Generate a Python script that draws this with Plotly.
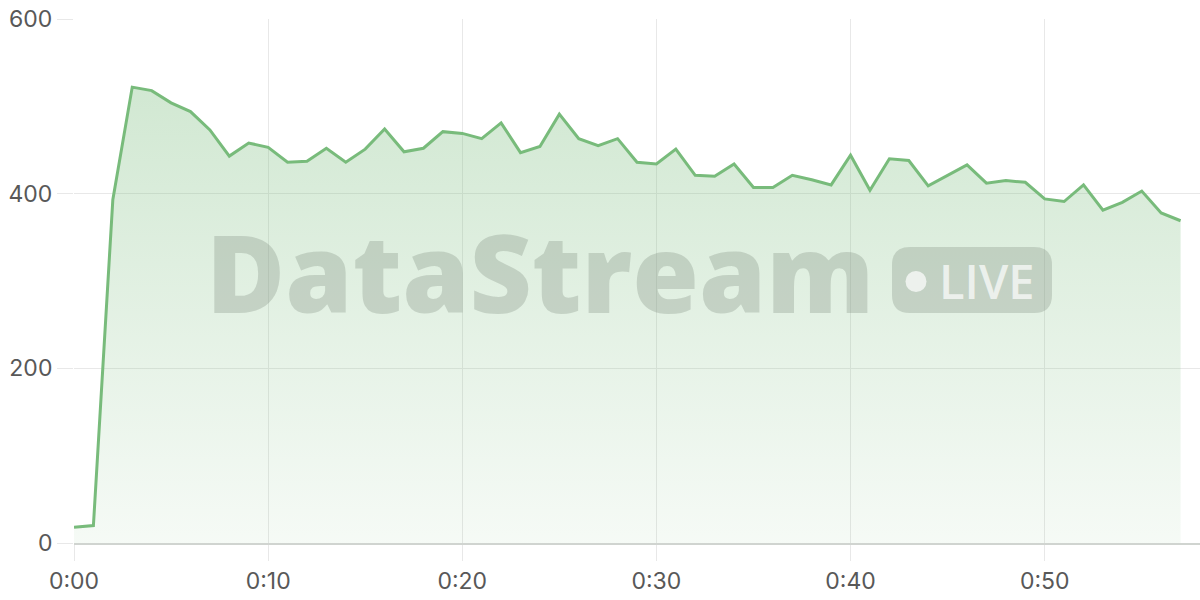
import plotly.graph_objects as go

minutes = list(range(58))
values = [18, 20, 393, 522, 518, 504, 494, 473, 443, 458, 453, 436, 437, 452, 436,
          451, 474, 448, 452, 471, 469, 463, 481, 447, 454, 491, 463, 455, 463, 436,
          434, 451, 421, 420, 434, 407, 407, 421, 416, 410, 444, 404, 440, 438, 409,
          421, 433, 412, 415, 413, 394, 391, 410, 381, 390, 403, 378, 369]
tick_vals = [0, 10, 20, 30, 40, 50]
tick_text = ["0:00", "0:10", "0:20", "0:30", "0:40", "0:50"]

L, T, W, H = 74, 19, 1126, 524


def px(x):
    return (x - L) / W


def py(y):
    return (T + H - y) / H


fig = go.Figure()
fig.add_trace(go.Scatter(
    x=minutes, y=values, mode="lines",
    line=dict(color="#78bb7b", width=3),
    fill="tozeroy",
    fillgradient=dict(type="vertical",
                      colorscale=[[0, "rgba(120,187,123,0.07)"],
                                  [1, "rgba(120,187,123,0.34)"]]),
    hoverinfo="skip", showlegend=False,
))

wm = "rgba(125,140,125,0.30)"
# watermark pill
x0, x1, y0, y1, r = 892, 1052, 247, 313, 18
path = (f"M {px(x0 + r)} {py(y0)} L {px(x1 - r)} {py(y0)} "
        f"Q {px(x1)} {py(y0)} {px(x1)} {py(y0 + r)} L {px(x1)} {py(y1 - r)} "
        f"Q {px(x1)} {py(y1)} {px(x1 - r)} {py(y1)} L {px(x0 + r)} {py(y1)} "
        f"Q {px(x0)} {py(y1)} {px(x0)} {py(y1 - r)} L {px(x0)} {py(y0 + r)} "
        f"Q {px(x0)} {py(y0)} {px(x0 + r)} {py(y0)} Z")
shapes = [
    dict(type="path", xref="paper", yref="paper", path=path,
         fillcolor=wm, line=dict(width=0), layer="above"),
    dict(type="circle", xref="paper", yref="paper",
         x0=px(905.5), x1=px(926.5), y0=py(292), y1=py(271),
         fillcolor="rgba(255,255,255,0.7)", line=dict(width=0), layer="above"),
]
annotations = [
    dict(text="DataStream", xref="paper", yref="paper", x=px(540), y=py(271),
         xanchor="center", yanchor="middle", showarrow=False,
         font=dict(family="Open Sans", size=108, color=wm, weight=800)),
    dict(text="LIVE", xref="paper", yref="paper", x=px(986), y=py(281),
         xanchor="center", yanchor="middle", showarrow=False,
         font=dict(family="Open Sans", size=47, color="rgba(255,255,255,0.7)", weight=600)),
]

fig.update_layout(
    width=1200, height=600,
    margin=dict(l=L, r=0, t=T, b=600 - T - H),
    paper_bgcolor="white", plot_bgcolor="white",
    shapes=shapes, annotations=annotations,
    font=dict(family="Inter", size=23, color="#585858"),
    xaxis=dict(range=[0, 58], tickvals=tick_vals, ticktext=tick_text,
               showgrid=True, gridcolor="#e8e8e8", gridwidth=1,
               ticks="outside", ticklen=16, tickcolor="#e8e8e8", tickwidth=1,
               showline=True, linecolor="#d0d4d0", linewidth=2,
               zeroline=False, fixedrange=True, automargin=False),
    yaxis=dict(range=[0, 600], tickvals=[0, 200, 400, 600],
               showgrid=True, gridcolor="#e8e8e8", gridwidth=1,
               ticks="outside", ticklen=16, tickcolor="#e8e8e8", tickwidth=1,
               showline=False, zeroline=False, fixedrange=True, automargin=False),
)

fig.write_html("out.html", config={"displayModeBar": False},
               post_script="document.body.style.margin='0';document.body.style.overflow='hidden';")
